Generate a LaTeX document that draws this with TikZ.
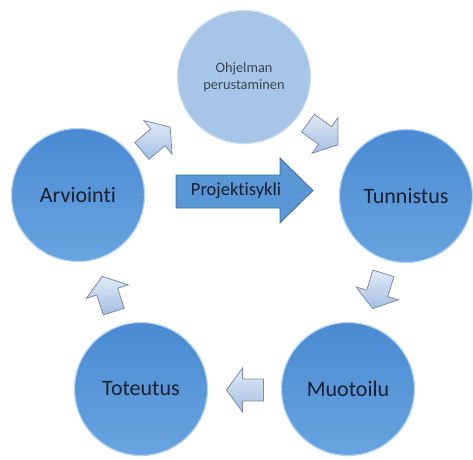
\documentclass[tikz,border=0pt]{standalone}
\usepackage{fontspec}
\setmainfont{Carlito}[Ligatures=NoCommon]
\definecolor{cT}{HTML}{4A8AD2}
\definecolor{cB}{HTML}{68A4E0}
\definecolor{crim}{HTML}{B5D4F2}
\definecolor{ltop}{HTML}{A6C5E7}
\definecolor{lrim}{HTML}{C9DDF2}
\definecolor{txt}{HTML}{17202F}
\definecolor{txt2}{HTML}{3A4658}
\definecolor{aT}{HTML}{E0EAF6}
\definecolor{aB}{HTML}{A4BFE3}
\definecolor{aD}{HTML}{7D8CA6}
\definecolor{pA}{HTML}{5896D5}
\definecolor{pD}{HTML}{41719C}
\tikzset{
  bigc/.style={circle, minimum size=133pt, inner sep=0pt, top color=cT, bottom color=cB,
    draw=crim, line width=1.2pt, text=txt, font=\fontsize{22}{26}\selectfont},
  topc/.style={circle, minimum size=133pt, inner sep=0pt, fill=ltop, draw=lrim,
    line width=1.2pt, text=txt2, font=\fontsize{14.4}{17}\selectfont, align=center},
  barrow/.pic={\draw[aD, line width=0.8pt, top color=aT, bottom color=aB]
    (-18.5,11) -- (2.5,11) -- (2.5,22) -- (18.5,0) -- (2.5,-22) -- (2.5,-11) -- (-18.5,-11) -- cycle;},
  ptext/.style={text=txt, font=\fontsize{18.5}{22}\selectfont, inner sep=0pt}
}
\begin{document}
\begin{tikzpicture}[x=1pt,y=-1pt]
\useasboundingbox (0,0) rectangle (473,459);
\node[topc] (p) at (244,77) {Ohjelman\\perustaminen};
\node[bigc] (t) at (406,196) {Tunnistus};
\node[bigc] (m) at (348,389) {Muotoilu};
\node[bigc] (tt) at (141,389) {Toteutus};
\node[bigc] (a) at (78,195) {Arviointi};
\draw[pD, line width=0.8pt, fill=pA] (176,175) -- (280,175) -- (280,158) -- (313,190.5)
  -- (280,223) -- (280,208) -- (176,208) -- cycle;
\node[ptext] (pk) at (236,191) {Projektisykli};
\pic[rotate=40] at (156,139) {barrow};
\pic[rotate=-36] at (323,134) {barrow};
\pic[rotate=-107] at (378,291) {barrow};
\pic[rotate=180] at (245,390) {barrow};
\pic[rotate=108] at (108,294) {barrow};
\end{tikzpicture}
\end{document}
